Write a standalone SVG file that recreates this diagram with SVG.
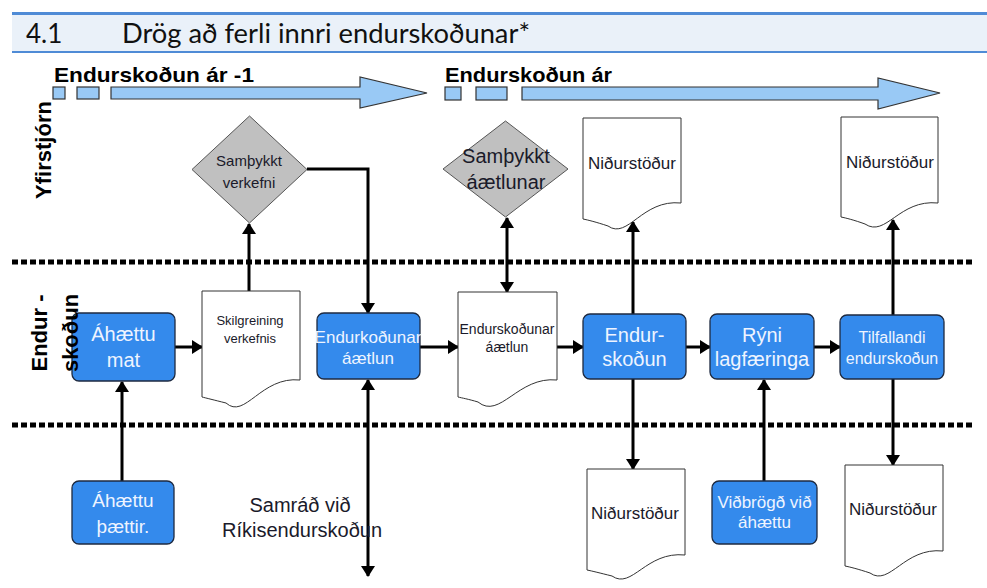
<svg xmlns="http://www.w3.org/2000/svg" width="987" height="588" viewBox="0 0 987 588">
<style>
.hdr{font-family:"Lato","Open Sans",sans-serif;font-size:26px;fill:#111}
.lane{font-family:"Liberation Sans",Arial,sans-serif;font-weight:bold;font-size:22px;fill:#000}
.per{font-family:"Liberation Sans",Arial,sans-serif;font-weight:bold;font-size:21px;fill:#000}
.tl{fill:#99C9F5;stroke:#333;stroke-width:1.2}
.box{fill:#348AEC;stroke:#1E2A40;stroke-width:1.3}
.bt{font-family:"Liberation Sans",Arial,sans-serif;fill:#EEF4FF;text-anchor:middle}
.dia{fill:#C0C0C0;stroke:#555;stroke-width:1}
.doc{fill:#fff;stroke:#333;stroke-width:1}
.dt{font-family:"Liberation Sans",Arial,sans-serif;fill:#1a1a2a;text-anchor:middle}
.sep{stroke:#000;stroke-width:5;stroke-dasharray:6 3;fill:none}
.c{stroke:#000;stroke-width:3;fill:none}
</style>
<defs>
<marker id="ah" markerUnits="userSpaceOnUse" markerWidth="12" markerHeight="14" refX="10" refY="7" orient="auto-start-reverse">
<path d="M0,0 L11,7 L0,14 Z" fill="#000"/>
</marker>
</defs>

<g id="header">
<rect x="12" y="15" width="975" height="36" fill="#EAF1F9"/>
<rect x="12" y="12" width="975" height="3" fill="#4F8BD6"/>
<rect x="12" y="51" width="975" height="2" fill="#4F8BD6"/>
<text class="hdr" x="26" y="43">4.1</text>
<text class="hdr" x="122" y="43" textLength="408" lengthAdjust="spacingAndGlyphs">Drög að ferli innri endurskoðunar*</text>
</g>

<g id="timeline1">
<text class="per" x="54" y="82" textLength="200" lengthAdjust="spacingAndGlyphs">Endurskoðun ár -1</text>
<rect class="tl" x="53" y="87" width="12" height="12"/>
<rect class="tl" x="77" y="87" width="22" height="12"/>
<path class="tl" d="M111,87 H360 V77 L427,93 L360,108 V99 H111 Z"/>
</g>
<g id="timeline2">
<text class="per" x="445" y="82" textLength="167" lengthAdjust="spacingAndGlyphs">Endurskoðun ár</text>
<rect class="tl" x="445" y="87" width="16" height="13"/>
<rect class="tl" x="476" y="87" width="31" height="13"/>
<path class="tl" d="M522,87 H878 V78 L940,93 L878,109 V100 H522 Z"/>
</g>

<g id="separators">
<path class="sep" d="M12,262 H972"/>
<path class="sep" d="M12,425 H972"/>
</g>

<g id="connectors">
<path class="c" d="M122,481 V382" marker-end="url(#ah)"/>
<path class="c" d="M175,347 H202" marker-end="url(#ah)"/>
<path class="c" d="M249,291 V224" marker-end="url(#ah)"/>
<path class="c" d="M307,169 H368 V313" marker-end="url(#ah)"/>
<path class="c" d="M420,347 H458" marker-end="url(#ah)"/>
<path class="c" d="M368,380 V576" marker-start="url(#ah)" marker-end="url(#ah)"/>
<path class="c" d="M507,218 V292" marker-start="url(#ah)" marker-end="url(#ah)"/>
<path class="c" d="M557,347 H583" marker-end="url(#ah)"/>
<path class="c" d="M633,314 V222" marker-end="url(#ah)"/>
<path class="c" d="M633,379 V469" marker-end="url(#ah)"/>
<path class="c" d="M686,347 H710" marker-end="url(#ah)"/>
<path class="c" d="M764,481 V380" marker-end="url(#ah)"/>
<path class="c" d="M814,347 H840" marker-end="url(#ah)"/>
<path class="c" d="M893,315 V220" marker-end="url(#ah)"/>
<path class="c" d="M893,379 V465" marker-end="url(#ah)"/>
</g>

<g id="samthykkt-verkefni">
<path class="dia" d="M249.5,116 L307,169.5 L249.5,223 L192,169.5 Z"/>
<text class="dt" x="249" y="166" font-size="15" fill="#222">Samþykkt</text>
<text class="dt" x="249" y="188" font-size="15" fill="#222">verkefni</text>
</g>

<g id="samthykkt-aetlunar">
<path class="dia" d="M505.5,121 L568,169 L505.5,217 L443,169 Z"/>
<text class="dt" x="506" y="163" font-size="20" fill="#111">Samþykkt</text>
<text class="dt" x="506" y="189" font-size="20" fill="#111">áætlunar</text>
</g>

<g id="ahaettu-mat">
<rect class="box" x="72" y="313" width="103" height="68" rx="7"/>
<text class="bt" x="123.5" y="341" font-size="20">Áhættu</text>
<text class="bt" x="123.5" y="367" font-size="20">mat</text>
</g>

<g id="skilgreining">
<path class="doc" d="M202,291 H300 V380 C261,376 245,420 226,403 C214,400 206,398 202,397 Z"/>
<text class="dt" x="250" y="325" font-size="13">Skilgreining</text>
<text class="dt" x="250" y="343" font-size="13">verkefnis</text>
</g>

<g id="endurkodunar-aetlun">
<rect class="box" x="317" y="313" width="103" height="66" rx="7"/>
<text class="bt" x="368" y="343" font-size="17">Endurkoðunar</text>
<text class="bt" x="368" y="364" font-size="17">áætlun</text>
</g>

<g id="endurskodunar-aetlun-doc">
<path class="doc" d="M458,292 H557 V380 C518,376 500,420 478,402 C468,399 462,398 458,397 Z"/>
<text class="dt" x="507" y="334" font-size="14">Endurskoðunar</text>
<text class="dt" x="507" y="352" font-size="14">áætlun</text>
</g>

<g id="endurskodun">
<rect class="box" x="583" y="314" width="103" height="65" rx="7"/>
<text class="bt" x="634.5" y="342" font-size="20">Endur-</text>
<text class="bt" x="634.5" y="366" font-size="20">skoðun</text>
</g>

<g id="ryni">
<rect class="box" x="710" y="314" width="104" height="65" rx="7"/>
<text class="bt" x="762" y="342" font-size="20">Rýni</text>
<text class="bt" x="762" y="366" font-size="20">lagfæringa</text>
</g>

<g id="tilfallandi">
<rect class="box" x="840" y="315" width="104" height="64" rx="7"/>
<text class="bt" x="892" y="343" font-size="16">Tilfallandi</text>
<text class="bt" x="892" y="364" font-size="16">endurskoðun</text>
</g>

<g id="nidurstodur-top1">
<path class="doc" d="M583,118 H681 V203 C642,199 628,240 608,226 C596,222 588,220 583,219 Z"/>
<text class="dt" x="632" y="169" font-size="17">Niðurstöður</text>
</g>

<g id="nidurstodur-top2">
<path class="doc" d="M841,117 H938 V203 C899,199 886,238 865,224 C854,220 846,218 841,217 Z"/>
<text class="dt" x="890" y="168" font-size="17">Niðurstöður</text>
</g>

<g id="nidurstodur-bot1">
<path class="doc" d="M587,469 H685 V555 C646,551 632,590 612,576 C600,573 592,571 587,570 Z"/>
<text class="dt" x="635" y="519" font-size="17">Niðurstöður</text>
</g>

<g id="nidurstodur-bot2">
<path class="doc" d="M845,465 H943 V551 C904,547 890,587 870,573 C858,569 850,567 845,566 Z"/>
<text class="dt" x="893" y="515" font-size="17">Niðurstöður</text>
</g>

<g id="ahaettu-thaettir">
<rect class="box" x="72" y="481" width="102" height="63" rx="7"/>
<text class="bt" x="123" y="507" font-size="19">Áhættu</text>
<text class="bt" x="123" y="533" font-size="19">þættir.</text>
</g>

<g id="vidbrogd">
<rect class="box" x="712" y="481" width="105" height="63" rx="7"/>
<text class="bt" x="764.5" y="508" font-size="17">Viðbrögð við</text>
<text class="bt" x="764.5" y="528" font-size="17">áhættu</text>
</g>

<g id="samrad">
<text class="dt" x="300" y="512" font-size="20" fill="#111">Samráð við</text>
<text class="dt" x="302" y="537" font-size="20" fill="#111">Ríkisendurskoðun</text>
</g>

<g id="lanes">
<text class="lane" transform="translate(51,150) rotate(-90)" text-anchor="middle">Yfirstjórn</text>
<text class="lane" transform="translate(47,333) rotate(-90)" text-anchor="middle">Endur -</text>
<text class="lane" transform="translate(78,333) rotate(-90)" text-anchor="middle">skoðun</text>
</g>
</svg>
